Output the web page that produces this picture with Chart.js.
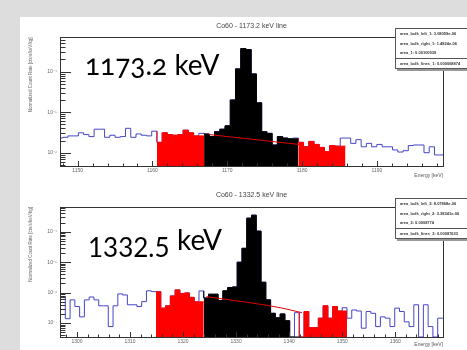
<!DOCTYPE html>
<html>
<head>
<meta charset="utf-8">
<script src="https://cdn.jsdelivr.net/npm/chart.js@4.4.0/dist/chart.umd.min.js"></script>
<style>
  html, body { margin: 0; padding: 0; }
  body { width: 467px; height: 350px; background: #dddddd; position: relative; overflow: hidden; font-family: "Liberation Sans", Arial, sans-serif; }
  #sheet { position: absolute; left: 20px; top: 17px; width: 447px; height: 333px; background: #fff; }
  canvas { position: absolute; left: 20px; }
  #cTop { top: 17px; }
  #cBottom { top: 184px; }
  .big { position: absolute; font-family: Lato, "Open Sans", sans-serif; font-size: 28px; line-height: 1; color: #000; white-space: nowrap; z-index: 2; }
  .stats { position: absolute; left: 395px; width: 80px; background: #fff; border: 1px solid #555; box-shadow: 2px 2px 0 #999; font-size: 4px; color: #333; z-index: 3; }
  .stats div { height: 9.5px; line-height: 9.5px; padding-left: 4px; white-space: nowrap; font-weight: bold; }
  .stats .sep { border-top: 1px solid #555; }
</style>
</head>
<body>
<div id="sheet"></div>
<canvas id="cTop" width="447" height="166"></canvas>
<canvas id="cBottom" width="447" height="166"></canvas>

<div class="big" style="left:85px; top:50px; font-variant-numeric: oldstyle-nums;">1173.2 keV</div>
<div class="big" style="left:88px; top:234px; font-size:26px;">1332.5</div>
<div class="big" style="left:177px; top:225px;">keV</div>

<div class="stats" style="top:28px;">
  <div>area_bulk_left_1: 3.08059e-06</div>
  <div>area_bulk_right_1: 1.4824e-06</div>
  <div>area_1: 0.00100939</div>
  <div class="sep">area_bulk_lines_1: 0.000068874</div>
</div>
<div class="stats" style="top:198px;">
  <div>area_bulk_left_2: 8.07868e-06</div>
  <div>area_bulk_right_2: 3.38341e-06</div>
  <div>area_2: 0.0008774</div>
  <div class="sep">area_bulk_lines_2: 0.00087633</div>
</div>

<script>
// 1173.2 keV line, bin contents [cts/s/keV/kg]
const topBinStart = 1147.3;   // low edge of bin 0 (keV)
const topBinWidth = 0.7;
const topCounts = [
    3.5e-6, 2.3e-6, 2.4e-6, 2.6e-6, 2.6e-6, 3.1e-6, 2.8e-6, 2.5e-6, 3.8e-6, 3.8e-6,
    2.4e-6, 2.7e-6, 2.4e-6, 2.5e-6, 4.0e-6, 2.4e-6, 2.9e-6, 2.7e-6, 2.6e-6, 3.4e-6,
    1.8e-6, 3.1e-6, 2.8e-6, 2.7e-6, 2.8e-6, 3.6e-6, 3.1e-6, 2.6e-6, 3.0e-6, 2.9e-6,
    2.5e-6, 3.3e-6, 3.8e-6, 4.6e-6, 2.0e-5, 1.17e-4, 3.7e-4, 3.5e-4, 8.8e-5, 1.7e-5,
    3.3e-6, 3.0e-6, 1.55e-6, 2.5e-6, 2.3e-6, 2.2e-6, 2.3e-6, 1.8e-6, 1.4e-6, 1.9e-6,
    1.6e-6, 1.35e-6, 1.07e-6, 1.5e-6, 1.45e-6, 2.3e-6, 2.3e-6, 1.7e-6, 2.1e-6, 1.4e-6,
    1.7e-6, 1.4e-6, 1.6e-6, 1.4e-6, 1.4e-6, 1.17e-6, 1.04e-6, 1.12e-6, 1.5e-6, 1.55e-6,
    1.55e-6, 1.0e-6, 1.4e-6, 0.88e-6
];
const topSideLeft = [19, 27];
const topSignal = [28, 45];
const topSideRight = [46, 54];
const topFitX = [1167.6, 1179.6];
const topFitY = [2.8e-6, 1.6e-6];
const topXRange = [1147.64, 1198.84];
const topYRange = [4.7e-7, 7.0e-4];
const topXTicks = [1150, 1160, 1170, 1180, 1190];
const topYTicks = [1e-6, 1e-5, 1e-4];
const topYLabels = ['10⁻⁶', '10⁻⁵', '10⁻⁴'];

// 1332.5 keV line
const bottomBinStart = 1296.0;
const bottomBinWidth = 0.9;
const bottomCounts = [
    6.6e-7, 6.6e-7, 7.4e-7, 1.4e-7, 5.8e-7, 3.5e-7, 1.6e-7, 5.8e-7, 7.2e-7, 5.8e-7,
    3.7e-7, 3.7e-7, 7.7e-8, 3.7e-7, 9.1e-7, 8.4e-7, 4.0e-7, 4.0e-7, 3.5e-7, 5.1e-7,
    1.15e-6, 1.08e-6, 1.08e-6, 3.1e-7, 3.7e-7, 7.8e-7, 1.23e-6, 9.4e-7, 9.8e-7, 7.0e-7,
    5.0e-7, 1.14e-6, 6.7e-7, 8.9e-7, 8.9e-7, 5.5e-7, 1.15e-6, 1.48e-6, 1.54e-6, 1.0e-5,
    2.86e-5, 2.8e-4, 3.5e-4, 1.05e-4, 2.2e-6, 5.8e-7, 2.1e-7, 1.5e-7, 2.0e-7, 1.2e-7,
    0, 2.2e-7, 0, 2.4e-7, 7.1e-8, 7.1e-8, 1.45e-7, 3.7e-7, 1.45e-7, 3.5e-7,
    2.5e-7, 3.2e-7, 1.45e-7, 2.7e-7, 2.5e-7, 6.8e-8, 2.4e-7, 2.1e-7, 7.7e-8, 1.6e-7,
    1.45e-7, 7.7e-8, 3.1e-7, 2.4e-7, 1.1e-7, 7.7e-8, 4.0e-7, 0, 4.0e-7, 7.7e-8,
    0, 1.45e-7
];
const bottomSideLeft = [21, 30];
const bottomSignal = [31, 50];
const bottomSideRight = [51, 60];
const bottomFitX = [1324.4, 1333.2, 1338.3, 1342.4];
const bottomFitY = [7.4e-7, 4.5e-7, 3.2e-7, 2.2e-7];
const bottomXRange = [1296.8, 1369.0];
const bottomYRange = [3.5e-8, 6.5e-4];
const bottomXTicks = [1300, 1310, 1320, 1330, 1340, 1350, 1360];
const bottomYTicks = [1e-7, 1e-6, 1e-5, 1e-4];
const bottomYLabels = ['10⁻⁷', '10⁻⁶', '10⁻⁵', '10⁻⁴'];

const LABEL_FONT = "'Liberation Sans', Arial, sans-serif";

// stepped points for bins from..to; empty bins sit on the axis floor
function histPoints(counts, start, width, from, to, floor) {
    const pts = [];
    for (let i = from; i <= to; i++) {
        pts.push({ x: start + i * width, y: counts[i] > 0 ? counts[i] : floor });
    }
    pts.push({ x: start + (to + 1) * width, y: counts[to] > 0 ? counts[to] : floor });
    return pts;
}

// ROOT style frame with ticks inside
const rootFrame = {
    id: 'rootFrame',
    afterDatasetsDraw(chart) {
        const { ctx, chartArea: a, scales: { x, y } } = chart;
        ctx.save();
        ctx.strokeStyle = '#333';
        ctx.lineWidth = 1;
        ctx.beginPath();
        const lo = Math.floor(Math.log10(y.min));
        const hi = Math.ceil(Math.log10(y.max));
        for (let d = lo; d <= hi; d++) {
            for (let m = 1; m < 10; m++) {
                const v = m * Math.pow(10, d);
                if (v < y.min || v > y.max) continue;
                const py = Math.round(y.getPixelForValue(v)) + 0.5;
                ctx.moveTo(a.left, py);
                ctx.lineTo(a.left + (m === 1 ? 11 : 5.5), py);
            }
        }
        for (let v = Math.ceil(x.min / 2) * 2; v <= x.max; v += 2) {
            const px = Math.round(x.getPixelForValue(v)) + 0.5;
            ctx.moveTo(px, a.bottom);
            ctx.lineTo(px, a.bottom - (v % 10 === 0 ? 5 : 2.5));
        }
        ctx.stroke();
        ctx.strokeRect(Math.round(a.left) + 0.5, Math.round(a.top) + 0.5,
            Math.round(a.right - a.left), Math.round(a.bottom - a.top));
        ctx.restore();
    }
};

function drawHisto(id, h) {
    const floor = h.yRange[0];
    const fillSet = (range, color) => ({
        data: histPoints(h.counts, h.start, h.width, range[0], range[1], floor),
        stepped: 'after',
        borderColor: color,
        backgroundColor: color,
        borderWidth: 1,
        pointRadius: 0,
        fill: 'start',
        order: 1
    });

    new Chart(document.getElementById(id), {
        type: 'line',
        data: {
            datasets: [
                {
                    data: h.fitX.map((x, i) => ({ x: x, y: h.fitY[i] })),
                    borderColor: '#e00000',
                    borderWidth: 1,
                    pointRadius: 0,
                    tension: 0.4,
                    fill: false,
                    order: 0
                },
                fillSet(h.sideLeft, '#ff0000'),
                fillSet(h.signal, '#000000'),
                fillSet(h.sideRight, '#ff0000'),
                {
                    data: histPoints(h.counts, h.start, h.width, 0, h.counts.length - 1, floor),
                    stepped: 'after',
                    borderColor: '#4545c8',
                    borderWidth: 1,
                    pointRadius: 0,
                    fill: false,
                    order: 2
                }
            ]
        },
        options: {
            responsive: false,
            animation: false,
            events: [],
            layout: { padding: { left: 0, right: 24, top: 0, bottom: 0 } },
            plugins: {
                legend: { display: false },
                tooltip: { enabled: false },
                title: {
                    display: true,
                    text: h.title,
                    fullSize: false,
                    color: '#444',
                    font: { family: LABEL_FONT, size: 7, weight: 'normal', lineHeight: 1.2 },
                    padding: h.titlePad
                }
            },
            scales: {
                x: {
                    type: 'linear',
                    min: h.xRange[0],
                    max: h.xRange[1],
                    grid: { display: false, drawTicks: false },
                    border: { display: false },
                    afterBuildTicks: s => { s.ticks = h.xTicks.map(v => ({ value: v })); },
                    afterFit: s => { s.height = h.xAxisHeight; },
                    ticks: {
                        autoSkip: false,
                        maxRotation: 0,
                        padding: 2,
                        color: '#666',
                        font: { family: LABEL_FONT, size: 5 },
                        callback: v => String(v)
                    },
                    title: {
                        display: true,
                        text: 'Energy [keV]',
                        align: 'end',
                        color: '#555',
                        font: { family: LABEL_FONT, size: 5 },
                        padding: { top: 0, bottom: h.xTitlePad }
                    }
                },
                y: {
                    type: 'logarithmic',
                    min: h.yRange[0],
                    max: h.yRange[1],
                    grid: { display: false, drawTicks: false },
                    border: { display: false },
                    afterBuildTicks: s => { s.ticks = h.yTicks.map(v => ({ value: v })); },
                    afterFit: s => { s.width = 40; },
                    ticks: {
                        autoSkip: false,
                        padding: 3,
                        color: '#666',
                        font: { family: LABEL_FONT, size: 5 },
                        callback: v => h.yLabels[h.yTicks.indexOf(v)]
                    },
                    title: {
                        display: true,
                        text: 'Normalized Count Rate [cts/s/keV/kg]',
                        align: 'end',
                        color: '#666',
                        font: { family: LABEL_FONT, size: 4.5 },
                        padding: { top: 8, bottom: 0 }
                    }
                }
            }
        },
        plugins: [rootFrame]
    });
}

drawHisto('cTop', {
    title: 'Co60 - 1173.2 keV line',
    counts: topCounts, start: topBinStart, width: topBinWidth,
    sideLeft: topSideLeft, signal: topSignal, sideRight: topSideRight,
    fitX: topFitX, fitY: topFitY,
    xRange: topXRange, yRange: topYRange,
    xTicks: topXTicks, yTicks: topYTicks, yLabels: topYLabels,
    titlePad: { top: 5, bottom: 7 }, xAxisHeight: 17, xTitlePad: 4
});

drawHisto('cBottom', {
    title: 'Co60 - 1332.5 keV line',
    counts: bottomCounts, start: bottomBinStart, width: bottomBinWidth,
    sideLeft: bottomSideLeft, signal: bottomSignal, sideRight: bottomSideRight,
    fitX: bottomFitX, fitY: bottomFitY,
    xRange: bottomXRange, yRange: bottomYRange,
    xTicks: bottomXTicks, yTicks: bottomYTicks, yLabels: bottomYLabels,
    titlePad: { top: 7, bottom: 7.6 }, xAxisHeight: 13, xTitlePad: 2
});
</script>
</body>
</html>
